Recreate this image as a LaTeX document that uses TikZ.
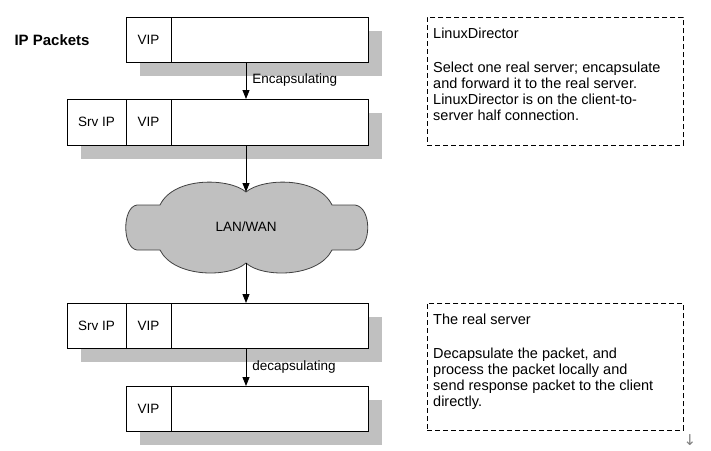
\documentclass[tikz,border=0pt]{standalone}
\usepackage{fontspec}
\setmainfont{Liberation Sans}
\newfontfamily\symfont{DejaVu Sans}
\usetikzlibrary{arrows.meta,positioning,shadows}
\definecolor{shadowgray}{HTML}{C0C0C0}
\definecolor{cloudline}{HTML}{404040}
\tikzstyle{cell} = [draw, line width=0.8pt, fill=white, inner sep=0pt, outer sep=0pt, minimum height=45pt, font=\fontsize{13.5}{16}\selectfont, drop shadow={shadow xshift=14pt, shadow yshift=-14pt, opacity=1, fill=shadowgray}]
\tikzstyle{arrow} = [draw, line width=0.8pt, -{Triangle[length=9pt,width=7pt]}]
\tikzstyle{note} = [draw, line width=0.8pt, dash pattern=on 5pt off 3pt, inner sep=0pt, anchor=north west, minimum width=256pt]
\tikzstyle{notetext} = [anchor=north west, inner sep=0pt, align=left, font=\fontsize{14.5}{16}\selectfont]
\tikzstyle{tag} = [right, inner sep=6pt, font=\fontsize{13.5}{16}\selectfont]

\begin{document}
\begin{tikzpicture} [x=1pt, y=-1pt]
  \useasboundingbox (0,0) rectangle (711,450);

  \node[anchor=west, font=\fontsize{15}{16}\selectfont\bfseries] (title) at (11,40) {IP Packets};

  % packets
  \node[cell, minimum width=45pt] (vipA) at (148.5,39.5) {VIP};
  \node[cell, minimum width=197pt, right=0pt of vipA] (bodyA) {};

  \node[cell, minimum width=59pt, minimum height=46pt] (srvB) at (96.5,122) {Srv IP};
  \node[cell, minimum width=45pt, minimum height=46pt, right=0pt of srvB] (vipB) {VIP};
  \node[cell, minimum width=197pt, minimum height=46pt, right=0pt of vipB] (bodyB) {};

  \node[cell, minimum width=59pt] (srvC) at (96.5,325.5) {Srv IP};
  \node[cell, minimum width=45pt, right=0pt of srvC] (vipC) {VIP};
  \node[cell, minimum width=197pt, right=0pt of vipC] (bodyC) {};

  \node[cell, minimum width=45pt] (vipD) at (148.5,408.5) {VIP};
  \node[cell, minimum width=197pt, right=0pt of vipD] (bodyD) {};

  % cloud
  \draw[line width=0.8pt, draw=cloudline, fill=shadowgray]
    (246,192) .. controls (262,178) and (318,176) .. (332,205)
    -- (355,205) .. controls (372,207) and (372,248) .. (355,250)
    -- (332,250) .. controls (318,278) and (262,278) .. (246,263)
    .. controls (230,278) and (174,278) .. (160,250)
    -- (137,250) .. controls (122,248) and (122,207) .. (137,205)
    -- (160,205) .. controls (174,176) and (230,178) .. (246,192) -- cycle;
  \node[font=\fontsize{13.5}{16}\selectfont] (net) at (246,227) {LAN/WAN};
  \coordinate (nettop) at (246,192);
  \coordinate (netbot) at (246,263);

  \draw[arrow] (bodyA.south -| net) -- (bodyB.north -| net) node[tag, midway] {Encapsulating};
  \draw[arrow] (bodyB.south -| net) -- (nettop);
  \draw[arrow] (netbot) -- (bodyC.north -| net);
  \draw[arrow] (bodyC.south -| net) -- (bodyD.north -| net) node[tag, midway] {decapsulating};

  % notes
  \node[note, minimum height=128pt] (dirbox) at (427,17) {};
  \node[notetext] (dirtext) at ([shift={(6,10.5)}]dirbox.north west)
    {LinuxDirector\\[18pt]Select one real server; encapsulate\\and forward it to the real server.\\LinuxDirector is on the client-to-\\server half connection.};

  \node[note, minimum height=127pt] (srvbox) at (427,303) {};
  \node[notetext] (srvtext) at ([shift={(6,10.5)}]srvbox.north west)
    {The real server\\[18pt]Decapsulate the packet, and\\process the packet locally and\\send response packet to the client\\directly.};

  \node[font=\symfont\fontsize{15}{16}\selectfont, text=gray] (mark) at (690,440) {↓};

\end{tikzpicture}
\end{document}
